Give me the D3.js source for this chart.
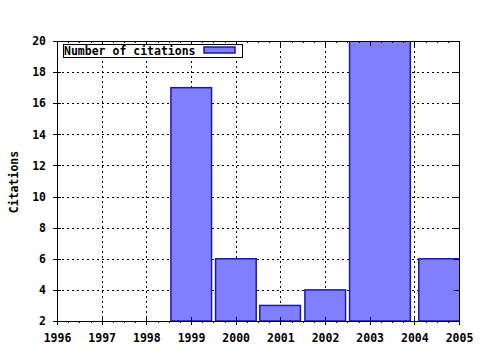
<!DOCTYPE html>
<html>
<head>
<meta charset="utf-8">
<script src="https://cdn.jsdelivr.net/npm/d3@7"></script>
<style>
  body { margin: 0; background: #fff; }
  svg text { font-family: "DejaVu Sans Mono", "Liberation Mono", monospace; font-weight: bold; font-size: 11.5px; fill: #000; }
</style>
</head>
<body>
<svg id="chart"></svg>
<script>
// citations per year (gnuplot-style boxes, edges)
let years = ['1999', '2000', '2001', '2002', '2003', '2004']
let citations = [17, 6, 3, 4, 20, 6]
let barStart = [1998.55, 1999.55, 2000.54, 2001.55, 2002.55, 2004.1]
let barEnd = [1999.46, 2000.46, 2001.45, 2002.46, 2003.91, 2005.9]

let xTicks = [1996, 1997, 1998, 1999, 2000, 2001, 2002, 2003, 2004, 2005]
let yTicks = [2, 4, 6, 8, 10, 12, 14, 16, 18, 20]

let w = 480
let h = 350
let pLeft = 57, pRight = 459, pTop = 41, pBottom = 321

let svg = d3.select('#chart').attr('width', w).attr('height', h)

let xScale = d3.scaleLinear().domain([1996, 2005]).range([pLeft, pRight])
let yScale = d3.scaleLinear().domain([2, 20]).range([pBottom, pTop])

svg.append('clipPath').attr('id', 'plot')
   .append('rect')
   .attr('x', pLeft).attr('y', pTop)
   .attr('width', pRight - pLeft).attr('height', pBottom - pTop)

// dotted grid
let grid = svg.append('g').attr('stroke', '#000').attr('stroke-dasharray', '2,3').attr('shape-rendering', 'crispEdges')
grid.selectAll('.vg')
    .data(xTicks.slice(1, -1))
    .enter().append('line')
    .attr('x1', d => Math.round(xScale(d)) + 0.5).attr('x2', d => Math.round(xScale(d)) + 0.5)
    .attr('y1', pTop).attr('y2', pBottom)
grid.selectAll('.hg')
    .data(yTicks.slice(1, -1))
    .enter().append('line')
    .attr('y1', d => Math.round(yScale(d)) + 0.5).attr('y2', d => Math.round(yScale(d)) + 0.5)
    .attr('x1', pLeft).attr('x2', pRight)

// bars
let data = years.map((y, i) => ({ year: y, value: citations[i], x0: barStart[i], x1: barEnd[i] }))
svg.append('g').attr('clip-path', 'url(#plot)')
   .selectAll('rect')
   .data(data)
   .enter().append('rect')
   .attr('x', d => xScale(d.x0))
   .attr('y', d => yScale(d.value))
   .attr('width', d => xScale(d.x1) - xScale(d.x0))
   .attr('height', d => yScale(2) - yScale(d.value))
   .attr('fill', '#8080ff')
   .attr('stroke', '#1a1aa6')
   .attr('stroke-width', 1.5)

// axes (ticks on both sides)
let xAxisB = d3.axisBottom(xScale).tickValues(xTicks).tickFormat(d3.format('d')).tickSize(4).tickPadding(9)
svg.append('g').attr('transform', 'translate(0,' + pBottom + ')').call(xAxisB)
let xAxisT = d3.axisBottom(xScale).tickValues(xTicks).tickFormat('').tickSize(5)
svg.append('g').attr('transform', 'translate(0,' + pTop + ')').call(xAxisT)
let yAxisL = d3.axisLeft(yScale).tickValues(yTicks).tickSize(4).tickPadding(7)
svg.append('g').attr('transform', 'translate(' + pLeft + ',0)').call(yAxisL)
let yAxisR = d3.axisLeft(yScale).tickValues(yTicks).tickFormat('').tickSize(5)
svg.append('g').attr('transform', 'translate(' + pRight + ',0)').call(yAxisR)

// inward major ticks on bottom/left too
svg.append('g').attr('transform', 'translate(0,' + pBottom + ')')
   .call(d3.axisTop(xScale).tickValues(xTicks).tickFormat('').tickSize(4))
svg.append('g').attr('transform', 'translate(' + pLeft + ',0)')
   .call(d3.axisRight(yScale).tickValues(yTicks).tickFormat('').tickSize(4))

// minor x ticks
let minor = []
xTicks.slice(0, -1).forEach(t => { minor.push(t + 0.25, t + 0.5, t + 0.75) })
svg.append('g').attr('transform', 'translate(0,' + pBottom + ')')
   .call(d3.axisBottom(xScale).tickValues(minor).tickFormat('').tickSize(2))
svg.append('g').attr('transform', 'translate(0,' + pTop + ')')
   .call(d3.axisBottom(xScale).tickValues(minor).tickFormat('').tickSize(2))

svg.selectAll('.domain').remove()
svg.selectAll('.tick line').attr('stroke', '#000').attr('shape-rendering', 'crispEdges')
svg.selectAll('.tick text').style('font-family', '"DejaVu Sans Mono", monospace').style('font-weight', 'bold').style('font-size', '11.5px')

// plot border
svg.append('rect')
   .attr('x', pLeft + 0.5).attr('y', pTop + 0.5)
   .attr('width', pRight - pLeft).attr('height', pBottom - pTop)
   .attr('fill', 'none').attr('stroke', '#000').attr('shape-rendering', 'crispEdges')

// legend
let legend = svg.append('g')
legend.append('rect')
   .attr('x', 63.5).attr('y', 44.5).attr('width', 179).attr('height', 13)
   .attr('fill', '#fff').attr('stroke', '#000').attr('shape-rendering', 'crispEdges')
legend.append('text').attr('x', 64).attr('y', 55).text('Number of citations')
legend.append('rect')
   .attr('x', 204).attr('y', 47).attr('width', 31).attr('height', 6)
   .attr('fill', '#8080ff').attr('stroke', '#1a1aa6').attr('stroke-width', 1.5)

// y label
svg.append('text')
   .attr('transform', 'translate(18,182) rotate(-90)')
   .attr('text-anchor', 'middle')
   .text('Citations')
</script>
</body>
</html>
